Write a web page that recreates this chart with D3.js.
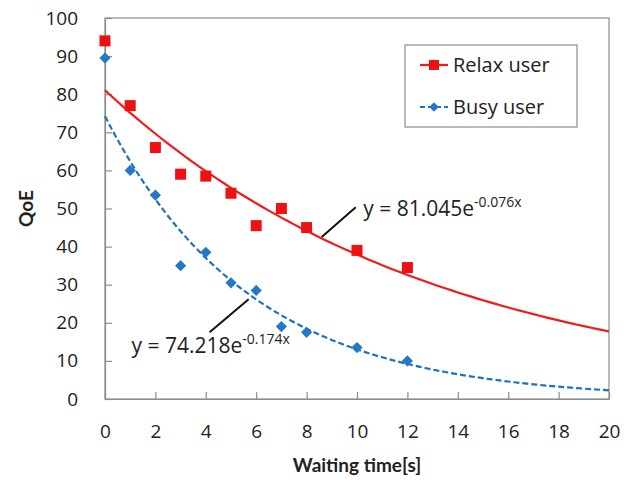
<!DOCTYPE html>
<html>
<head>
<meta charset="utf-8">
<script src="https://cdn.jsdelivr.net/npm/d3@7"></script>
<style>
  html, body { margin: 0; padding: 0; background: #fff; overflow: hidden; }
  svg { display: block; }
  svg text { font-family: "Open Sans", Lato, sans-serif; fill: #222; }
</style>
</head>
<body>
<svg id="chart" width="634" height="480"></svg>
<script>
// measured points
const waitTimes = [0, 1, 2, 3, 4, 5, 6, 7, 8, 10, 12];
const relaxQoE = [94, 77, 66, 59, 58.5, 54, 45.5, 50, 45, 39, 34.5];
const busyQoE = [89.5, 60, 53.5, 35, 38.5, 30.5, 28.5, 19, 17.5, 13.5, 10];

// trendline coefficients as printed in the chart
const relaxFit = { a: 81.045, b: -0.076 };
const busyFit = { a: 74.218, b: -0.174 };

const xTicks = [0, 2, 4, 6, 8, 10, 12, 14, 16, 18, 20];
const yTicks = [0, 10, 20, 30, 40, 50, 60, 70, 80, 90, 100];

const svg = d3.select('#chart');
const margin = { top: 18, right: 25, bottom: 81, left: 105 };
const width = 634, height = 480;
const innerWidth = width - margin.left - margin.right;
const innerHeight = height - margin.top - margin.bottom;

const xScale = d3.scaleLinear().domain([0, 20]).range([0, innerWidth]);
const yScale = d3.scaleLinear().domain([0, 100]).range([innerHeight, 0]);

const g = svg.append('g')
    .attr('transform', `translate(${margin.left},${margin.top})`);

// frame
g.append('rect')
    .attr('width', innerWidth).attr('height', innerHeight)
    .style('fill', 'none').style('stroke', '#8c8c8c').style('stroke-width', 1.2);

// axes (ticks pointing inward)
const yAxis = g.append('g')
    .call(d3.axisLeft(yScale).tickValues(yTicks).tickSizeInner(-7).tickSizeOuter(0).tickPadding(27));
const xAxis = g.append('g')
    .attr('transform', `translate(0,${innerHeight})`)
    .call(d3.axisBottom(xScale).tickValues(xTicks).tickSizeInner(-7).tickSizeOuter(0).tickPadding(26));
[xAxis, yAxis].forEach(ax => {
    ax.select('.domain').style('stroke', '#8c8c8c').style('stroke-width', 1.2);
    ax.selectAll('line').style('stroke', '#8c8c8c').style('stroke-width', 1.2);
    ax.selectAll('text').style('font-size', '19px').style('font-family', '"Open Sans", sans-serif').style('fill', '#222');
});

// trendlines
const curveX = d3.range(0, 20.01, 0.25);
const line = d3.line()
    .x(d => xScale(d[0]))
    .y(d => yScale(d[1]));

g.append('path')
    .datum(curveX.map(x => [x, relaxFit.a * Math.exp(relaxFit.b * x)]))
    .style('fill', 'none').style('stroke', '#f21a1a').style('stroke-width', 2.2)
    .attr('d', line);
g.append('path')
    .datum(curveX.map(x => [x, busyFit.a * Math.exp(busyFit.b * x)]))
    .style('fill', 'none').style('stroke', '#2070c0').style('stroke-width', 2.2)
    .style('stroke-dasharray', '6,3')
    .attr('d', line);

// markers
const diamond = d3.symbol().type(d3.symbolDiamond2).size(80);
g.selectAll('.busy')
    .data(waitTimes.map((x, i) => [x, busyQoE[i]]))
    .join('path')
    .attr('class', 'busy')
    .attr('transform', d => `translate(${xScale(d[0])},${yScale(d[1])})`)
    .attr('d', diamond)
    .style('fill', '#2578c8');
g.selectAll('.relax')
    .data(waitTimes.map((x, i) => [x, relaxQoE[i]]))
    .join('rect')
    .attr('class', 'relax')
    .attr('x', d => xScale(d[0]) - 5.5)
    .attr('y', d => yScale(d[1]) - 5.5)
    .attr('width', 11).attr('height', 11)
    .style('fill', '#ee1111');

// equation labels with leader lines
function equation(fit, leader, tx, ty) {
    g.append('line')
        .attr('x1', xScale(leader[0])).attr('y1', yScale(leader[1]))
        .attr('x2', xScale(leader[2])).attr('y2', yScale(leader[3]))
        .style('stroke', '#111').style('stroke-width', 2);
    const t = g.append('text')
        .attr('x', xScale(tx)).attr('y', yScale(ty))
        .style('font-size', '21px');
    t.append('tspan').text(`y = ${fit.a.toFixed(3)}e`);
    t.append('tspan').attr('dy', -9).style('font-size', '14px').text(`${fit.b.toFixed(3)}x`);
}
equation(relaxFit, [8.6, 42.5, 9.95, 50.3], 10.25, 48.1);
equation(busyFit, [4.15, 17.5, 5.7, 26.2], 1.05, 12.2);

// axis titles
g.append('text')
    .attr('x', innerWidth / 2).attr('y', innerHeight + 73)
    .style('text-anchor', 'middle').style('font-weight', 'bold').style('font-size', '19px')
    .style('font-family', 'Lato, sans-serif')
    .text('Waiting time[s]');
g.append('text')
    .attr('transform', 'rotate(-90)')
    .attr('x', -innerHeight / 2).attr('y', -72)
    .style('text-anchor', 'middle').style('font-weight', 'bold').style('font-size', '19px')
    .style('font-family', 'Lato, sans-serif')
    .text('QoE');

// legend
const legend = g.append('g').attr('transform', `translate(${405 - margin.left},${45 - margin.top})`);
legend.append('rect')
    .attr('width', 172).attr('height', 82)
    .style('fill', '#fff').style('stroke', '#8c8c8c').style('stroke-width', 1.2);
const items = [
    { name: 'Relax user', color: '#f21a1a', dash: null, mark: 'square' },
    { name: 'Busy user', color: '#2070c0', dash: '5,3', mark: 'diamond' }
];
items.forEach((it, i) => {
    const y = 20 + i * 42;
    legend.append('line')
        .attr('x1', 15).attr('x2', 43).attr('y1', y).attr('y2', y)
        .style('stroke', it.color).style('stroke-width', 2.2)
        .style('stroke-dasharray', it.dash);
    if (it.mark === 'square') {
        legend.append('rect').attr('x', 24).attr('y', y - 5).attr('width', 10).attr('height', 10)
            .style('fill', '#ee1111');
    } else {
        legend.append('path').attr('transform', `translate(29,${y})`)
            .attr('d', d3.symbol().type(d3.symbolDiamond2).size(60)).style('fill', '#2578c8');
    }
    legend.append('text')
        .attr('x', 48).attr('y', y + 7)
        .style('font-size', '20px')
        .text(it.name);
});
</script>
</body>
</html>
